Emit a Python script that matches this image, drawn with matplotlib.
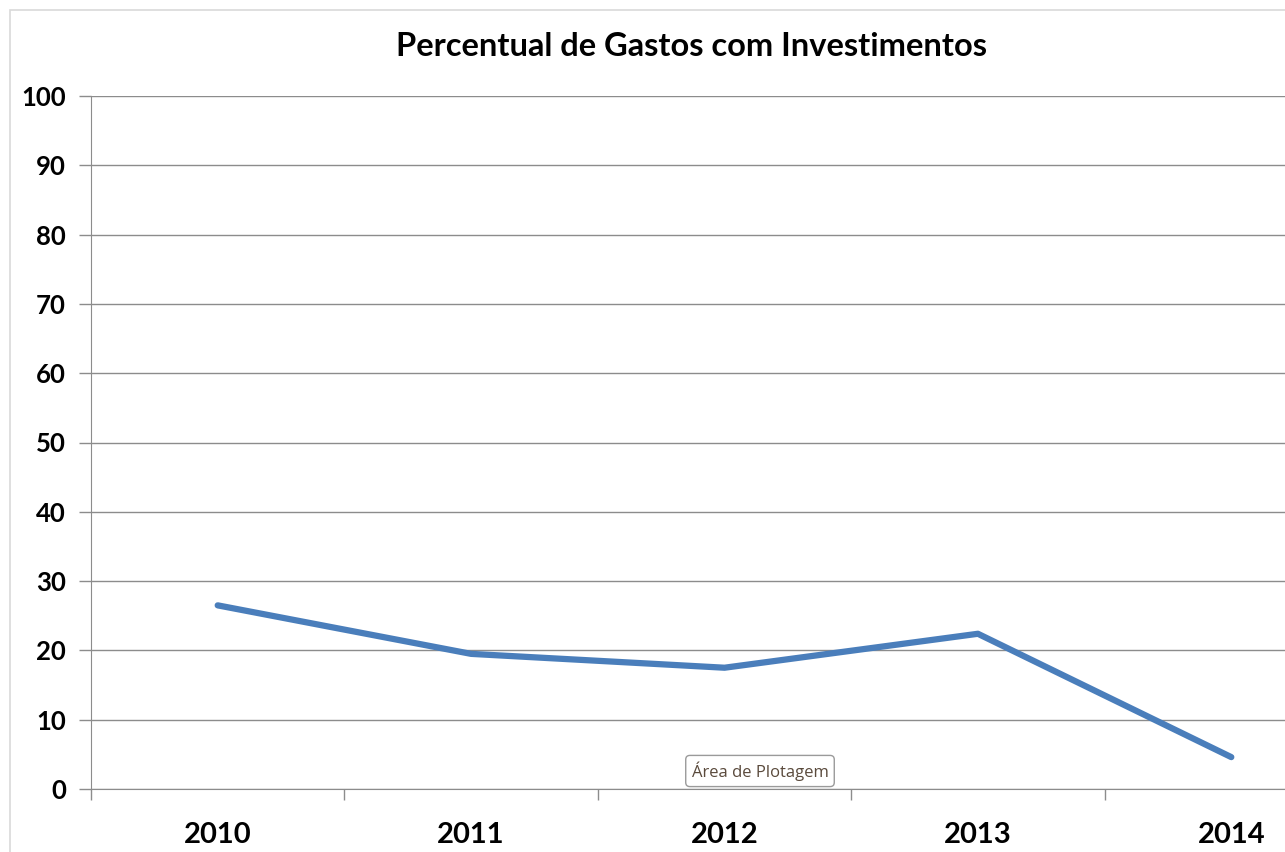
import matplotlib
matplotlib.use("Agg")
import matplotlib.pyplot as plt
from matplotlib.patches import Rectangle

years = ["2010", "2011", "2012", "2013", "2014"]
values = [26.5, 19.5, 17.5, 22.4, 4.6]
yticks = list(range(0, 101, 10))
title = "Percentual de Gastos com Investimentos"

W, H = 1285, 852
fig = plt.figure(figsize=(W / 100, H / 100), dpi=100)
fig.patch.set_facecolor("white")

# chart border (Excel chart area)
fig.patches.append(Rectangle((10 / W, -0.1), 1.2, (H - 10) / H + 0.1, transform=fig.transFigure,
                             fill=False, edgecolor="#d9d9d9", linewidth=1.2))

left = 91 / W
width = (1358 - 91) / W
bottom = (H - 789) / H
height = (789 - 96) / H
ax = fig.add_axes([left, bottom, width, height])

x = list(range(len(years)))
ax.plot(x, values, color="#4A7EBB", linewidth=4.5, solid_capstyle="round", solid_joinstyle="round", zorder=3)

ax.set_xlim(-0.5, len(years) - 0.5)
ax.set_ylim(0, 100)
ax.set_yticks(yticks)
ax.set_yticklabels([str(t) for t in yticks])
ax.yaxis.grid(True, color="#8c8c8c", linewidth=1)
ax.set_axisbelow(True)

ax.set_xticks(x)
ax.set_xticklabels(years)
ax.set_xticks([i - 0.5 for i in range(len(years) + 1)], minor=True)
ax.tick_params(axis="x", which="major", length=0, pad=24)
ax.tick_params(axis="x", which="minor", length=8, color="#8c8c8c", width=1)
ax.tick_params(axis="y", length=9, color="#8c8c8c", width=1, pad=9)

for lab in ax.get_xticklabels() + ax.get_yticklabels():
    lab.set_fontfamily("Lato")
    lab.set_fontweight("bold")
for lab in ax.get_xticklabels():
    lab.set_fontsize(21)
for lab in ax.get_yticklabels():
    lab.set_fontsize(18.5)

for s in ["top", "right"]:
    ax.spines[s].set_visible(False)
ax.spines["left"].set_color("#8c8c8c")
ax.spines["bottom"].set_color("#8c8c8c")

fig.text(691 / W, 1 - 46 / H, title, ha="center", va="center",
         fontsize=23.5, fontweight="bold", family="Lato", color="#000000")

# tooltip
fig.text(760 / W, 1 - 771 / H, "Área de Plotagem", ha="center", va="center",
         fontsize=12, family="Open Sans", color="#5a4a3c",
         bbox=dict(boxstyle="round,pad=0.35,rounding_size=0.25", fc="white", ec="#9a9a9a", lw=1))

fig.savefig("out.png", dpi=100, facecolor="white")
